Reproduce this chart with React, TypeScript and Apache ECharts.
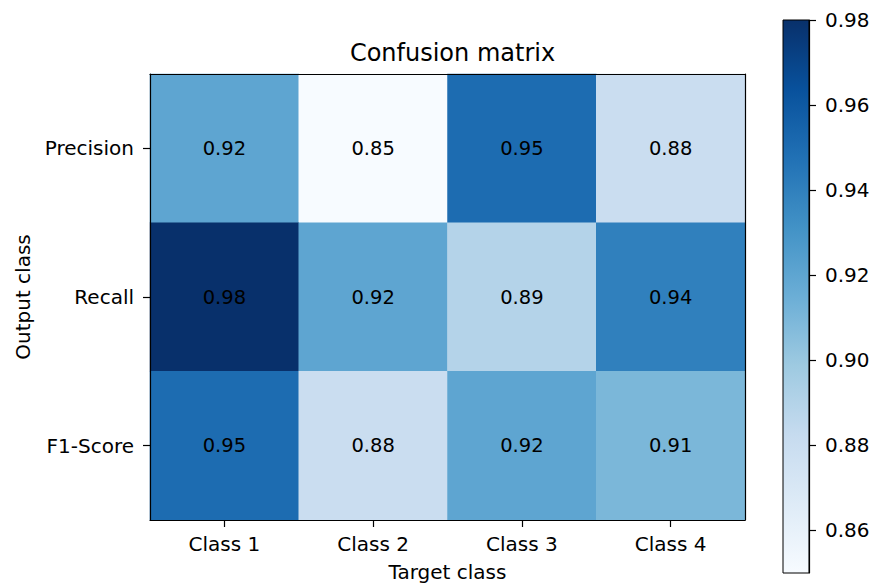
import React, { useEffect, useRef } from 'react';
import * as echarts from 'echarts';

const xCategories = ['Class 1', 'Class 2', 'Class 3', 'Class 4'];
const yCategories = ['Precision', 'Recall', 'F1-Score'];
const precisionValues = [0.92, 0.85, 0.95, 0.88];
const recallValues = [0.98, 0.92, 0.89, 0.94];
const f1Values = [0.95, 0.88, 0.92, 0.91];
const colorbarTicks = [0.86, 0.88, 0.9, 0.92, 0.94, 0.96, 0.98];
const colorMin = 0.85;
const colorMax = 0.98;
const blues = ['#f7fbff', '#deebf7', '#c6dbef', '#9ecae1', '#6baed6', '#4292c6', '#2171b5', '#08519c', '#08306b'];

const FONT = 'DejaVu Sans';

export default function App() {
  const ref = useRef<HTMLDivElement>(null);
  useEffect(() => {
    const chart = echarts.init(ref.current!, null, { renderer: 'svg' });
    const rows = [precisionValues, recallValues, f1Values];
    const data: number[][] = [];
    rows.forEach((row, yi) => row.forEach((v, xi) => data.push([xi, yi, v])));

    const gradient = new echarts.graphic.LinearGradient(
      0, 1, 0, 0,
      blues.map((c, i) => ({ offset: i / (blues.length - 1), color: c }))
    );

    const axisText = { fontFamily: FONT, fontSize: 20, color: '#000' };

    const option: any = {
      animation: false,
      backgroundColor: '#fff',
      title: {
        text: 'Confusion matrix',
        left: 447.5,
        textAlign: 'center',
        top: 36,
        textStyle: { fontFamily: FONT, fontSize: 24, fontWeight: 'normal', color: '#000' },
      },
      grid: [
        { left: 150, top: 74, width: 595, height: 446, containLabel: false, outerBoundsMode: 'none' },
        {
          left: 783, top: 20, width: 26, height: 553, show: true, outerBoundsMode: 'none',
          backgroundColor: gradient, borderColor: '#000', borderWidth: 1,
        },
      ],
      xAxis: [
        {
          type: 'category', gridIndex: 0, data: xCategories, position: 'bottom', z: 10,
          axisLine: { show: true, lineStyle: { color: '#000', width: 1.2 } },
          axisTick: { show: true, alignWithLabel: true, length: 7, lineStyle: { color: '#000', width: 1.2 } },
          axisLabel: { ...axisText, margin: 14 },
          splitLine: { show: false },
          name: 'Target class', nameLocation: 'middle', nameGap: 42,
          nameTextStyle: { ...axisText },
        },
        {
          type: 'category', gridIndex: 0, data: xCategories, position: 'top', z: 10,
          axisLine: { show: true, lineStyle: { color: '#000', width: 1.2 } },
          axisTick: { show: false }, axisLabel: { show: false }, splitLine: { show: false },
        },
        {
          type: 'category', gridIndex: 1, data: [''], show: false,
        },
      ],
      yAxis: [
        {
          type: 'category', gridIndex: 0, data: yCategories, inverse: true, position: 'left', z: 10,
          axisLine: { show: true, lineStyle: { color: '#000', width: 1.2 } },
          axisTick: { show: true, alignWithLabel: true, length: 7, lineStyle: { color: '#000', width: 1.2 } },
          axisLabel: { ...axisText, margin: 16 },
          splitLine: { show: false },
          name: 'Output class', nameLocation: 'middle', nameGap: 117, nameRotate: 90,
          nameTextStyle: { ...axisText },
        },
        {
          type: 'category', gridIndex: 0, data: yCategories, inverse: true, position: 'right', z: 10,
          axisLine: { show: true, lineStyle: { color: '#000', width: 1.2 } },
          axisTick: { show: false }, axisLabel: { show: false }, splitLine: { show: false },
        },
        {
          type: 'value', gridIndex: 1, position: 'right', min: colorMin, max: colorMax, z: 10,
          axisLine: { show: true, lineStyle: { color: '#000', width: 1.2 } },
          axisTick: { show: true, length: 7, customValues: colorbarTicks, lineStyle: { color: '#000', width: 1.2 } },
          axisLabel: {
            ...axisText, margin: 16, customValues: colorbarTicks,
            formatter: (v: number) => v.toFixed(2),
          },
          splitLine: { show: false },
        },
      ],
      visualMap: {
        show: false,
        type: 'continuous',
        min: colorMin,
        max: colorMax,
        seriesIndex: 0,
        dimension: 2,
        inRange: { color: blues },
      },
      series: [
        {
          type: 'heatmap',
          xAxisIndex: 0,
          yAxisIndex: 0,
          data,
          label: {
            show: true,
            fontFamily: FONT,
            fontSize: 19.5,
            color: '#000',
            formatter: (p: any) => p.value[2].toFixed(2),
          },
          itemStyle: { borderWidth: 0 },
          emphasis: { disabled: true },
        },
      ],
    };
    chart.setOption(option);
    return () => chart.dispose();
  }, []);
  return (
    <div
      ref={ref}
      style={{ position: 'fixed', left: 0, top: 0, width: 873, height: 583, background: '#fff' }}
    />
  );
}
